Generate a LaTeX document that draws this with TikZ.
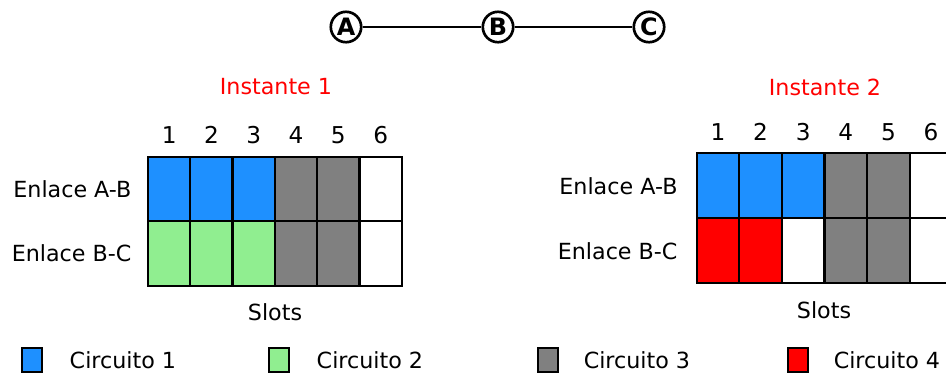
\documentclass[tikz,border=0pt]{standalone}
\usepackage{fontspec}
\setmainfont{DejaVu Sans}
\usetikzlibrary{positioning}
\definecolor{circazul}{RGB}{30,144,255}
\definecolor{circverde}{RGB}{144,238,144}
\definecolor{circgris}{RGB}{128,128,128}
\definecolor{circrojo}{RGB}{255,0,0}

\tikzset{slot/.style = {shape = rectangle,
                        draw = black,
                        line width = 1.5pt,
                        inner sep = 0pt,
                        minimum width = 1.06cm,
                        minimum height = 1.62cm},
         nodo/.style = {shape = circle,
                        draw = black,
                        line width = 1.9pt,
                        inner sep = 0pt,
                        minimum size = 0.76cm,
                        font = \fontsize{17}{20}\selectfont\bfseries},
         leyenda/.style = {shape = rectangle,
                        draw = black,
                        line width = 1.5pt,
                        inner sep = 0pt,
                        minimum width = 0.52cm,
                        minimum height = 0.58cm},
         texto/.style = {inner sep = 0pt,
                        font = \fontsize{15.8}{19}\selectfont},
         numero/.style = {inner sep = 0pt,
                        font = \fontsize{16.5}{19}\selectfont}}

\begin{document}
\begin{tikzpicture}[x=0.025cm, y=-0.025cm]
	\useasboundingbox (0,0) rectangle (946,376);
	\clip (0,0) rectangle (946,376);
	% red de nodos
	\node[nodo] (A) at (346,27) {A};
	\node[nodo] (B) at (498,27) {B};
	\node[nodo] (C) at (649,27) {C};
	\draw[line width=1.6pt] (A) -- (B);
	\draw[line width=1.6pt] (B) -- (C);
	% instante 1
	\node[texto, text=red] (inst1) at (276,87) {Instante 1};
	\foreach \c [count=\i] in {circazul,circazul,circazul,circgris,circgris,white}
		\node[slot, fill=\c] (ab\i) at ({148+42.3*(\i-0.5)},189) {};
	\foreach \c [count=\i] in {circverde,circverde,circverde,circgris,circgris,white}
		\node[slot, fill=\c] (bc\i) at ({148+42.3*(\i-0.5)},253.6) {};
	\foreach \i in {1,...,6}
		\node[numero] (n\i) at ({148+42.3*(\i-0.5)},135) {\i};
	\node[texto, left=0.38cm of ab1] (enlab1) {Enlace A-B};
	\node[texto, left=0.38cm of bc1] (enlbc1) {Enlace B-C};
	\node[texto] (slots1) at (275,312) {Slots};
	% instante 2
	\node[texto, text=red] (inst2) at (825,87) {Instante 2};
	\foreach \c [count=\i] in {circazul,circazul,circazul,circgris,circgris,white}
		\node[slot, fill=\c] (abb\i) at ({696.7+42.6*(\i-0.5)},185.8) {};
	\foreach \c [count=\i] in {circrojo,circrojo,white,circgris,circgris,white}
		\node[slot, fill=\c] (bcc\i) at ({696.7+42.6*(\i-0.5)},250.8) {};
	\foreach \i in {1,...,6}
		\node[numero] (m\i) at ({696.7+42.6*(\i-0.5)},132) {\i};
	\node[texto, left=0.45cm of abb1] (enlab2) {Enlace A-B};
	\node[texto, left=0.45cm of bcc1] (enlbc2) {Enlace B-C};
	\node[texto] (slots2) at (824,310) {Slots};
	% leyenda
	\node[leyenda, fill=circazul] (ley1) at (32,360) {};
	\node[leyenda, fill=circverde] (ley2) at (279,360) {};
	\node[leyenda, fill=circgris] (ley3) at (548,360) {};
	\node[leyenda, fill=circrojo] (ley4) at (798,360) {};
	\node[texto, right=0.65cm of ley1] (txt1) {Circuito 1};
	\node[texto, right=0.65cm of ley2] (txt2) {Circuito 2};
	\node[texto, right=0.6cm of ley3] (txt3) {Circuito 3};
	\node[texto, right=0.6cm of ley4] (txt4) {Circuito 4};
\end{tikzpicture}
\end{document}
